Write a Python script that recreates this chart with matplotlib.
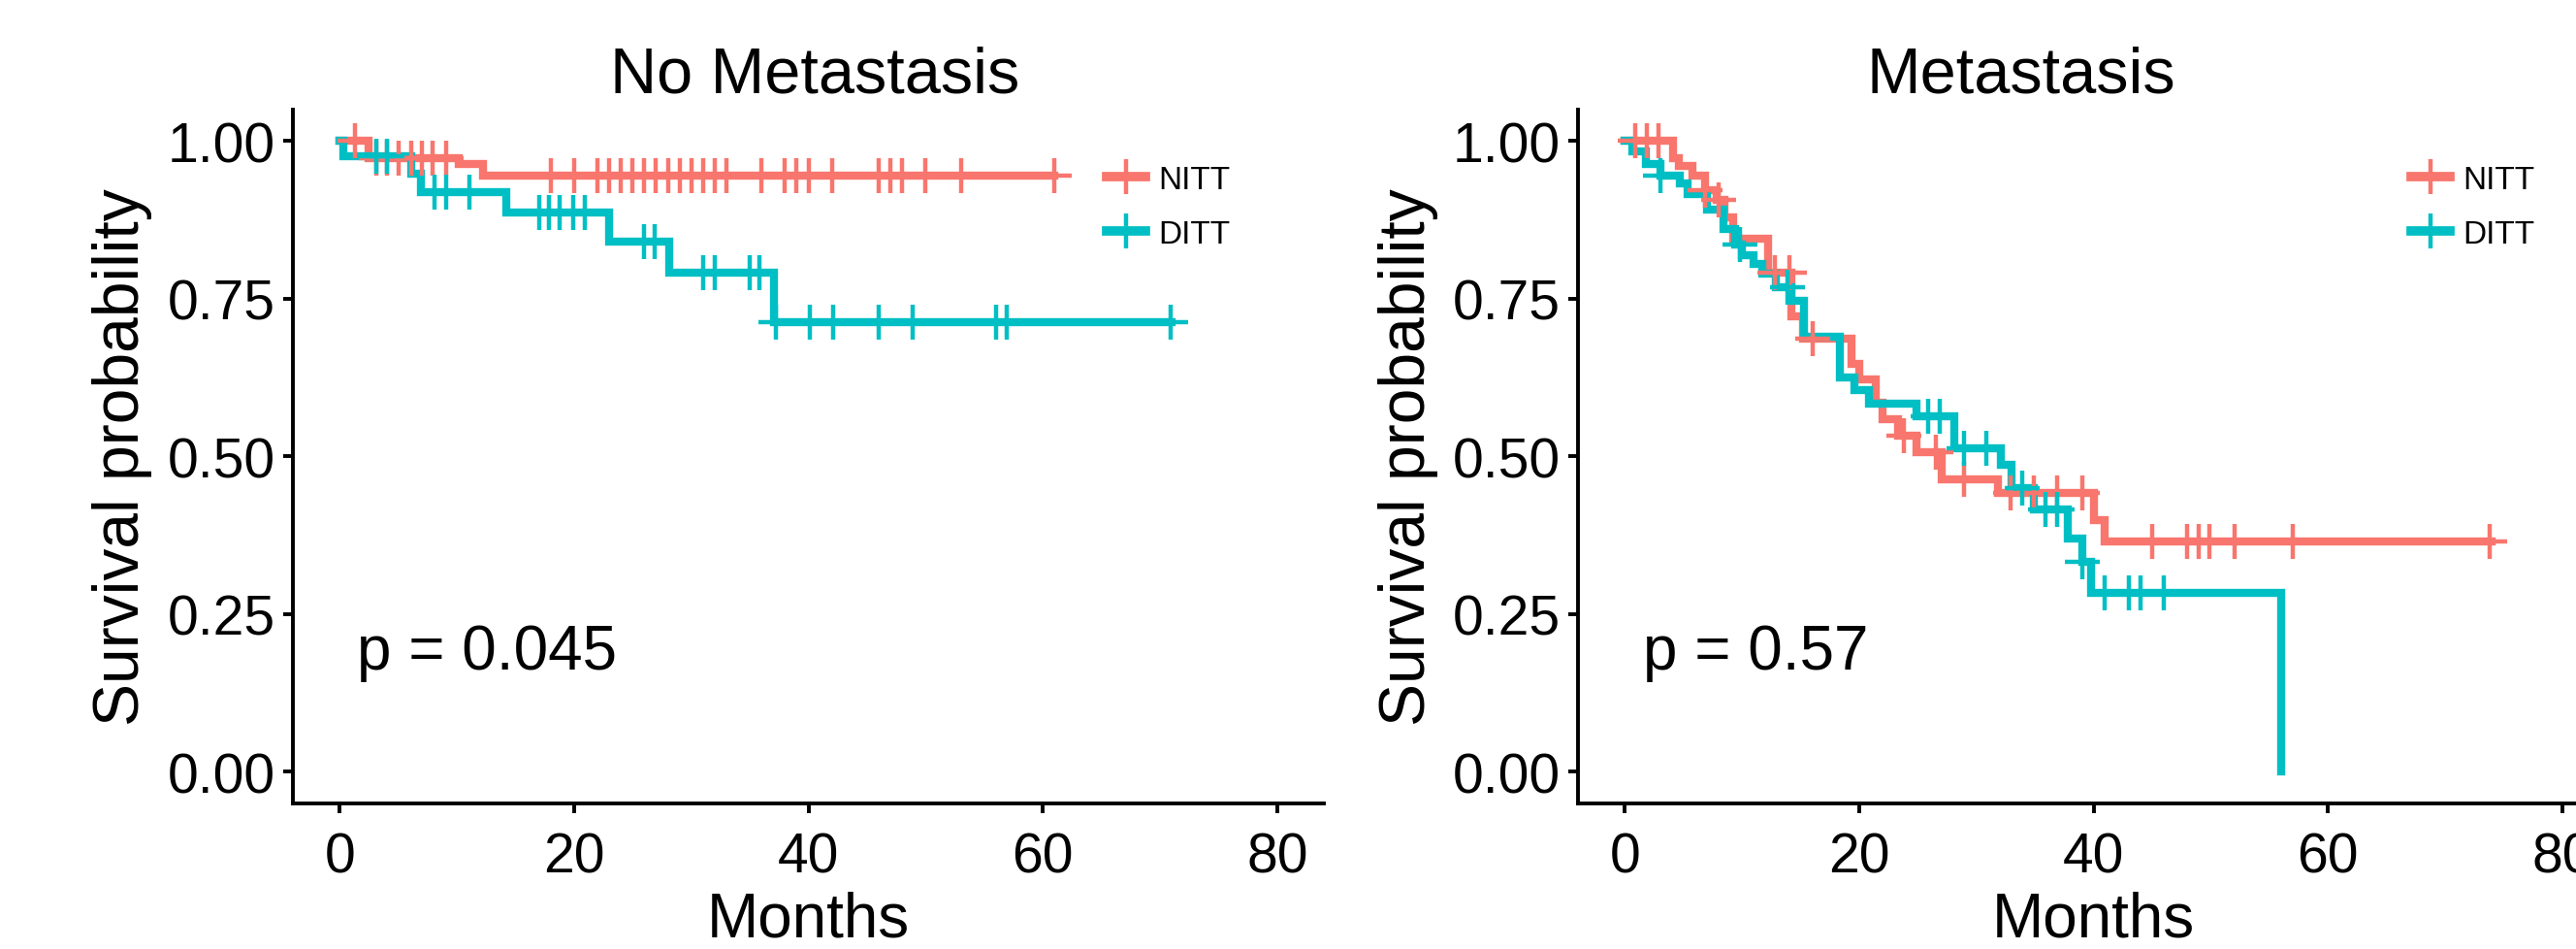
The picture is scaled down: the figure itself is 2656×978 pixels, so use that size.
import numpy as np
import matplotlib
matplotlib.use("Agg")
import matplotlib.pyplot as plt
from matplotlib.lines import Line2D

plt.rcParams['font.family'] = ['Liberation Sans', 'DejaVu Sans']

red = '#F8766D'
cyan = '#00BFC4'

# ---- No Metastasis ----
nm_nitt_time = [0, 2.5, 10.2, 12.2]
nm_nitt_surv = [1.0, 0.973, 0.963, 0.945]
nm_nitt_end = 61
nm_nitt_cens = [1.3, 3.1, 4.0, 5.0, 6.1, 7.0, 7.9, 9.1, 18, 20, 22, 23, 24, 25, 26,
                27, 28, 29, 30, 31, 32, 33, 36, 38, 39, 40, 42, 46, 47, 48, 50, 53, 61]

nm_ditt_time = [0, 0.3, 6.1, 6.9, 14.2, 23.0, 28.1, 37.1]
nm_ditt_surv = [1.0, 0.975, 0.947, 0.919, 0.886, 0.840, 0.791, 0.712]
nm_ditt_end = 71
nm_ditt_cens = [3.1, 4.0, 8.1, 9.1, 11.1, 17.0, 17.9, 18.8, 19.9, 20.9, 26.0, 26.9,
                31.0, 32.0, 35.0, 35.8, 37.2, 40.1, 42.1, 46.0, 48.9, 56.0, 56.9, 70.9]

# ---- Metastasis ----
m_nitt_time = [0, 4.1, 4.6, 5.8, 6.8, 7.8, 8.5, 9.2, 12.2, 14.2, 15.2, 19.3, 20.0,
               21.4, 22.0, 23.3, 24.9, 27.0, 31.8, 40.0, 40.9]
m_nitt_surv = [1.0, 0.973, 0.960, 0.945, 0.922, 0.906, 0.878, 0.845, 0.791, 0.722,
               0.686, 0.647, 0.621, 0.585, 0.558, 0.532, 0.506, 0.463, 0.442, 0.398, 0.365]
m_nitt_end = 74
m_nitt_cens = [0.9, 1.9, 2.9, 6.8, 8.0, 12.8, 14.0, 16.0, 23.8, 26.5, 28.9, 32.9, 34.9,
               36.9, 39.0, 45.0, 48.0, 49.0, 49.9, 52.0, 57.0, 73.8]

m_ditt_time = [0, 0.65, 1.76, 3.0, 4.66, 5.35, 7.0, 8.4, 9.4, 10.0, 11.0, 11.7, 12.9,
               14.2, 15.3, 18.3, 19.6, 20.8, 24.9, 28.1, 32.1, 33.0, 34.9, 37.8, 39.0,
               39.8, 56.0]
m_ditt_surv = [1.0, 0.983, 0.963, 0.945, 0.932, 0.916, 0.891, 0.860, 0.835, 0.819,
               0.805, 0.789, 0.768, 0.747, 0.690, 0.624, 0.604, 0.583, 0.563, 0.512,
               0.486, 0.450, 0.416, 0.370, 0.332, 0.283, 0.0]
m_ditt_end = 56
m_ditt_cens = [3.0, 9.8, 13.9, 25.9, 26.9, 28.9, 30.8, 33.9, 35.9, 36.9, 39.0, 40.9,
               43.0, 44.0, 46.0]

groups = ['NITT', 'DITT']
colors = [red, cyan]


def km_curve(ax, t, s, end, cens, color):
    t = np.array(t, dtype=float)
    s = np.array(s, dtype=float)
    if end > t[-1]:
        tt = np.append(t, end)
        ss = np.append(s, s[-1])
    else:
        tt, ss = t, s
    ax.step(tt, ss, where='post', color=color, lw=6, solid_joinstyle='miter', zorder=3)
    c = np.array(cens, dtype=float)
    idx = np.searchsorted(t, c, side='right') - 1
    ax.plot(c, s[idx], ls='none', marker='+', ms=26, mew=3.2, color=color, zorder=4)


fig = plt.figure(figsize=(26.56, 9.79), dpi=100)
ax1 = fig.add_axes([0.11367, 0.15352, 0.40030, 0.73054])
ax2 = fig.add_axes([0.61261, 0.15352, 0.40030, 0.73054])

panels = [
    (ax1, 'No Metastasis', 0.506, 'p = 0.045',
     [(nm_nitt_time, nm_nitt_surv, nm_nitt_end, nm_nitt_cens),
      (nm_ditt_time, nm_ditt_surv, nm_ditt_end, nm_ditt_cens)], 0.789),
    (ax2, 'Metastasis', 0.43, 'p = 0.57',
     [(m_nitt_time, m_nitt_surv, m_nitt_end, m_nitt_cens),
      (m_ditt_time, m_ditt_surv, m_ditt_end, m_ditt_cens)], 0.808),
]

for ax, title, tx, ptxt, curves, lx in panels:
    for (t, s, end, cens), col in zip(curves, colors):
        km_curve(ax, t, s, end, cens, col)
    ax.set_xlim(-4, 84)
    ax.set_ylim(-0.05, 1.05)
    ax.set_xticks([0, 20, 40, 60, 80])
    ax.set_yticks([0, 0.25, 0.5, 0.75, 1.0])
    ax.set_yticklabels(['0.00', '0.25', '0.50', '0.75', '1.00'])
    for sp in ['top', 'right']:
        ax.spines[sp].set_visible(False)
    for sp in ['left', 'bottom']:
        ax.spines[sp].set_linewidth(2.8)
    ax.tick_params(axis='both', labelsize=41, width=2.8, length=7, colors='black')
    ax.tick_params(axis='x', pad=14)
    ax.tick_params(axis='y', pad=6)
    ax.set_xlabel('Months', fontsize=46, labelpad=5)
    ax.set_ylabel('Survival probability', fontsize=47.5, labelpad=11)
    ax.text(tx, 1.025, title, transform=ax.transAxes, ha='center', va='baseline',
            fontsize=48)
    ax.text(1.5, 0.19, ptxt, ha='left', va='center', fontsize=46)
    handles = [Line2D([], [], color=c, lw=7, marker='+', ms=26, mew=3.2) for c in colors]
    ax.legend(handles, groups, loc='upper left', bbox_to_anchor=(lx, 0.92),
              frameon=False, fontsize=24, handlelength=1.2, handletextpad=0.4,
              labelspacing=0.75, borderpad=0, borderaxespad=0)

fig.savefig('out.png', dpi=100)
